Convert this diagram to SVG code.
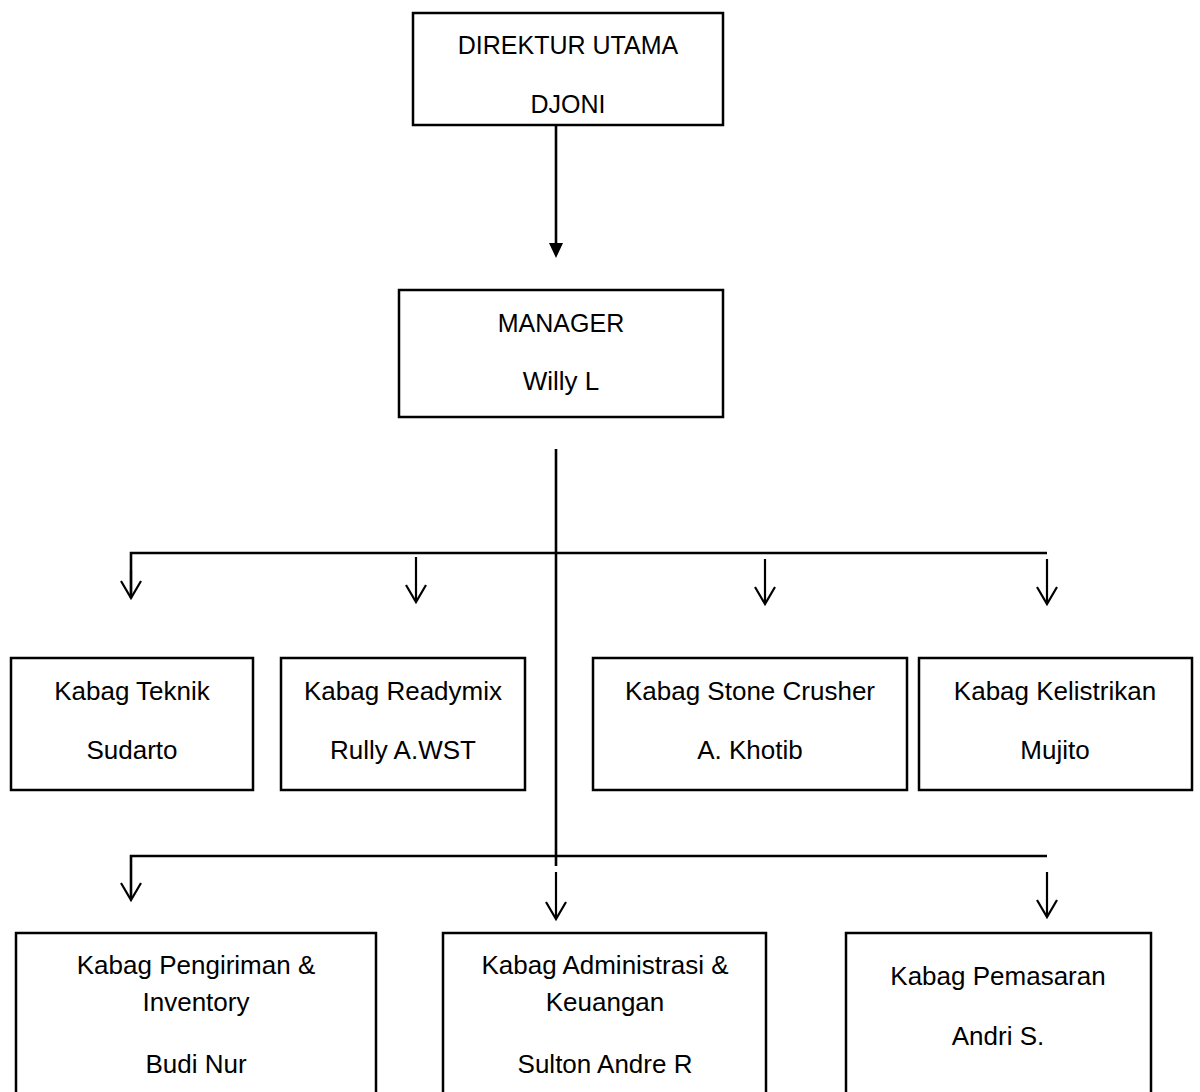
<svg xmlns="http://www.w3.org/2000/svg" width="1200" height="1092" viewBox="0 0 1200 1092">
<style>
  .box { fill: #ffffff; stroke: #000000; stroke-width: 2.5; }
  .t { font-family: "Liberation Sans", Arial, sans-serif; font-size: 26px; fill: #000000; text-anchor: middle; }
  .c { font-size: 25px; }
  .ln { stroke: #000000; stroke-width: 2.6; fill: none; }
  .ar { stroke: #000000; stroke-width: 2.2; fill: none; }
</style>
<defs>
  <marker id="open" viewBox="0 0 24 20" refX="12" refY="18" markerWidth="24" markerHeight="20" markerUnits="userSpaceOnUse" orient="auto-start-reverse">
    <path d="M2,1 L12,18 L22,1" fill="none" stroke="#000" stroke-width="2.2"/>
  </marker>
</defs>
<rect width="1200" height="1092" fill="#ffffff"/>

<g id="connectors">
  <line class="ln" x1="556" y1="125" x2="556" y2="244"/>
  <polygon points="549,243 563,243 556,258" fill="#000"/>
  <line class="ln" x1="556" y1="449" x2="556" y2="866"/>
  <polyline class="ln" points="131,598 131,553 1047,553"/>
  <path class="ar" d="M131,570 L131,597" />
  <path d="M121,581 L131,598 L141,581" fill="none" stroke="#000" stroke-width="2.2"/>
  <line class="ar" x1="416" y1="557" x2="416" y2="601"/>
  <path d="M406,585 L416,602 L426,585" fill="none" stroke="#000" stroke-width="2.2"/>
  <line class="ar" x1="765" y1="559" x2="765" y2="603"/>
  <path d="M755,587 L765,604 L775,587" fill="none" stroke="#000" stroke-width="2.2"/>
  <line class="ar" x1="1047" y1="559" x2="1047" y2="603"/>
  <path d="M1037,587 L1047,604 L1057,587" fill="none" stroke="#000" stroke-width="2.2"/>
  <polyline class="ln" points="131,899 131,856 1047,856"/>
  <path d="M121,883 L131,900 L141,883" fill="none" stroke="#000" stroke-width="2.2"/>
  <line class="ar" x1="556" y1="872" x2="556" y2="918"/>
  <path d="M546,902 L556,919 L566,902" fill="none" stroke="#000" stroke-width="2.2"/>
  <line class="ar" x1="1047" y1="872" x2="1047" y2="916"/>
  <path d="M1037,900 L1047,917 L1057,900" fill="none" stroke="#000" stroke-width="2.2"/>
</g>

<g id="direktur">
  <rect class="box" x="413" y="13" width="310" height="112"/>
  <text class="t c" x="568" y="54">DIREKTUR UTAMA</text>
  <text class="t c" x="568" y="113">DJONI</text>
</g>
<g id="manager">
  <rect class="box" x="399" y="290" width="324" height="127"/>
  <text class="t c" x="561" y="332">MANAGER</text>
  <text class="t" x="561" y="390">Willy L</text>
</g>
<g id="teknik">
  <rect class="box" x="11" y="658" width="242" height="132"/>
  <text class="t" x="132" y="700">Kabag Teknik</text>
  <text class="t" x="132" y="759">Sudarto</text>
</g>
<g id="readymix">
  <rect class="box" x="281" y="658" width="244" height="132"/>
  <text class="t" x="403" y="700">Kabag Readymix</text>
  <text class="t" x="403" y="759">Rully A.WST</text>
</g>
<g id="stonecrusher">
  <rect class="box" x="593" y="658" width="314" height="132"/>
  <text class="t" x="750" y="700">Kabag Stone Crusher</text>
  <text class="t" x="750" y="759">A. Khotib</text>
</g>
<g id="kelistrikan">
  <rect class="box" x="919" y="658" width="273" height="132"/>
  <text class="t" x="1055" y="700">Kabag Kelistrikan</text>
  <text class="t" x="1055" y="759">Mujito</text>
</g>
<g id="pengiriman">
  <rect class="box" x="16" y="933" width="360" height="175"/>
  <text class="t" x="196" y="974">Kabag Pengiriman &amp;</text>
  <text class="t" x="196" y="1011">Inventory</text>
  <text class="t" x="196" y="1073">Budi Nur</text>
</g>
<g id="administrasi">
  <rect class="box" x="443" y="933" width="323" height="175"/>
  <text class="t" x="605" y="974">Kabag Administrasi &amp;</text>
  <text class="t" x="605" y="1011">Keuangan</text>
  <text class="t" x="605" y="1073">Sulton Andre R</text>
</g>
<g id="pemasaran">
  <rect class="box" x="846" y="933" width="305" height="175"/>
  <text class="t" x="998" y="985">Kabag Pemasaran</text>
  <text class="t" x="998" y="1045">Andri S.</text>
</g>
</svg>
